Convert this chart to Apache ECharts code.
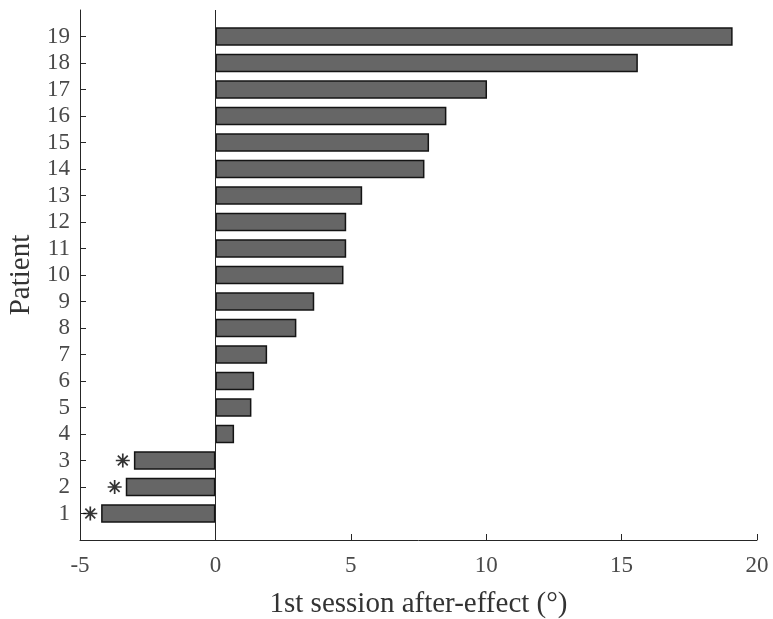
<!DOCTYPE html>
<html>
<head>
<meta charset="utf-8">
<script src="https://cdn.jsdelivr.net/npm/echarts@6/dist/echarts.min.js"></script>
<style>html,body{margin:0;padding:0;background:#fff}#c{width:773px;height:619px}</style>
</head>
<body>
<div id="c"></div>
<script>
const patients = ['1','2','3','4','5','6','7','8','9','10','11','12','13','14','15','16','17','18','19'];
const afterEffect = [-4.22,-3.31,-3.01,0.69,1.33,1.43,1.91,2.99,3.65,4.73,4.83,4.83,5.42,7.72,7.89,8.53,10.03,15.6,19.1];
const markedPatients = ['1','2','3'];
const markerX = [-4.62,-3.72,-3.42];
const xTicks = {min:-5, max:20, interval:5};

// pad category axis so its ends sit at 0 and 20
const yCats = ['0'].concat(patients, ['20']);
const barData = [null].concat(afterEffect, [null]);
const starData = markedPatients.map((p,i)=>[markerX[i], p]);

const font = 'Liberation Serif';
const axisCol = '#262626';
const chart = echarts.init(document.getElementById('c'));
chart.setOption({
  animation:false,
  grid:{left:80, right:16, top:10, bottom:79, containLabel:false, outerBoundsMode:'none'},
  xAxis:{
    type:'value', min:xTicks.min, max:xTicks.max, interval:xTicks.interval,
    name:'1st session after-effect (°)', nameLocation:'middle', nameGap:50,
    nameTextStyle:{fontFamily:font, fontSize:29, color:'#333'},
    axisLine:{show:true, lineStyle:{color:axisCol, width:1}},
    axisTick:{show:true, inside:true, length:6, lineStyle:{color:axisCol}},
    axisLabel:{fontFamily:font, fontSize:23, color:'#4a4a4a', margin:14},
    splitLine:{show:false}
  },
  yAxis:{
    type:'category', data:yCats, boundaryGap:false,
    name:'Patient', nameLocation:'middle', nameGap:41, nameRotate:90,
    nameTextStyle:{fontFamily:font, fontSize:29, color:'#333'},
    axisLine:{show:true, onZero:false, lineStyle:{color:axisCol, width:1}},
    axisTick:{show:true, inside:true, length:6, lineStyle:{color:axisCol},
      interval:(i,v)=>v!=='0' && v!=='20'},
    axisLabel:{fontFamily:font, fontSize:23, color:'#4a4a4a', margin:10,
      interval:(i,v)=>v!=='0' && v!=='20'},
    splitLine:{show:false}
  },
  series:[
    {
      type:'bar', data:barData, barWidth:18.5,
      itemStyle:{color:'#666666', borderColor:'#141414', borderWidth:1.5},
      markLine:{silent:true, symbol:'none', label:{show:false},
        lineStyle:{color:axisCol, width:1, type:'solid'},
        data:[{xAxis:0}]}
    },
    {
      type:'scatter', data:starData, symbolSize:14,
      symbol:'path://M0,-10L0,10M-10,0L10,0M-7.07,-7.07L7.07,7.07M-7.07,7.07L7.07,-7.07',
      itemStyle:{color:'none', borderColor:'#000', borderWidth:1.7}
    }
  ]
});
</script>
</body>
</html>
